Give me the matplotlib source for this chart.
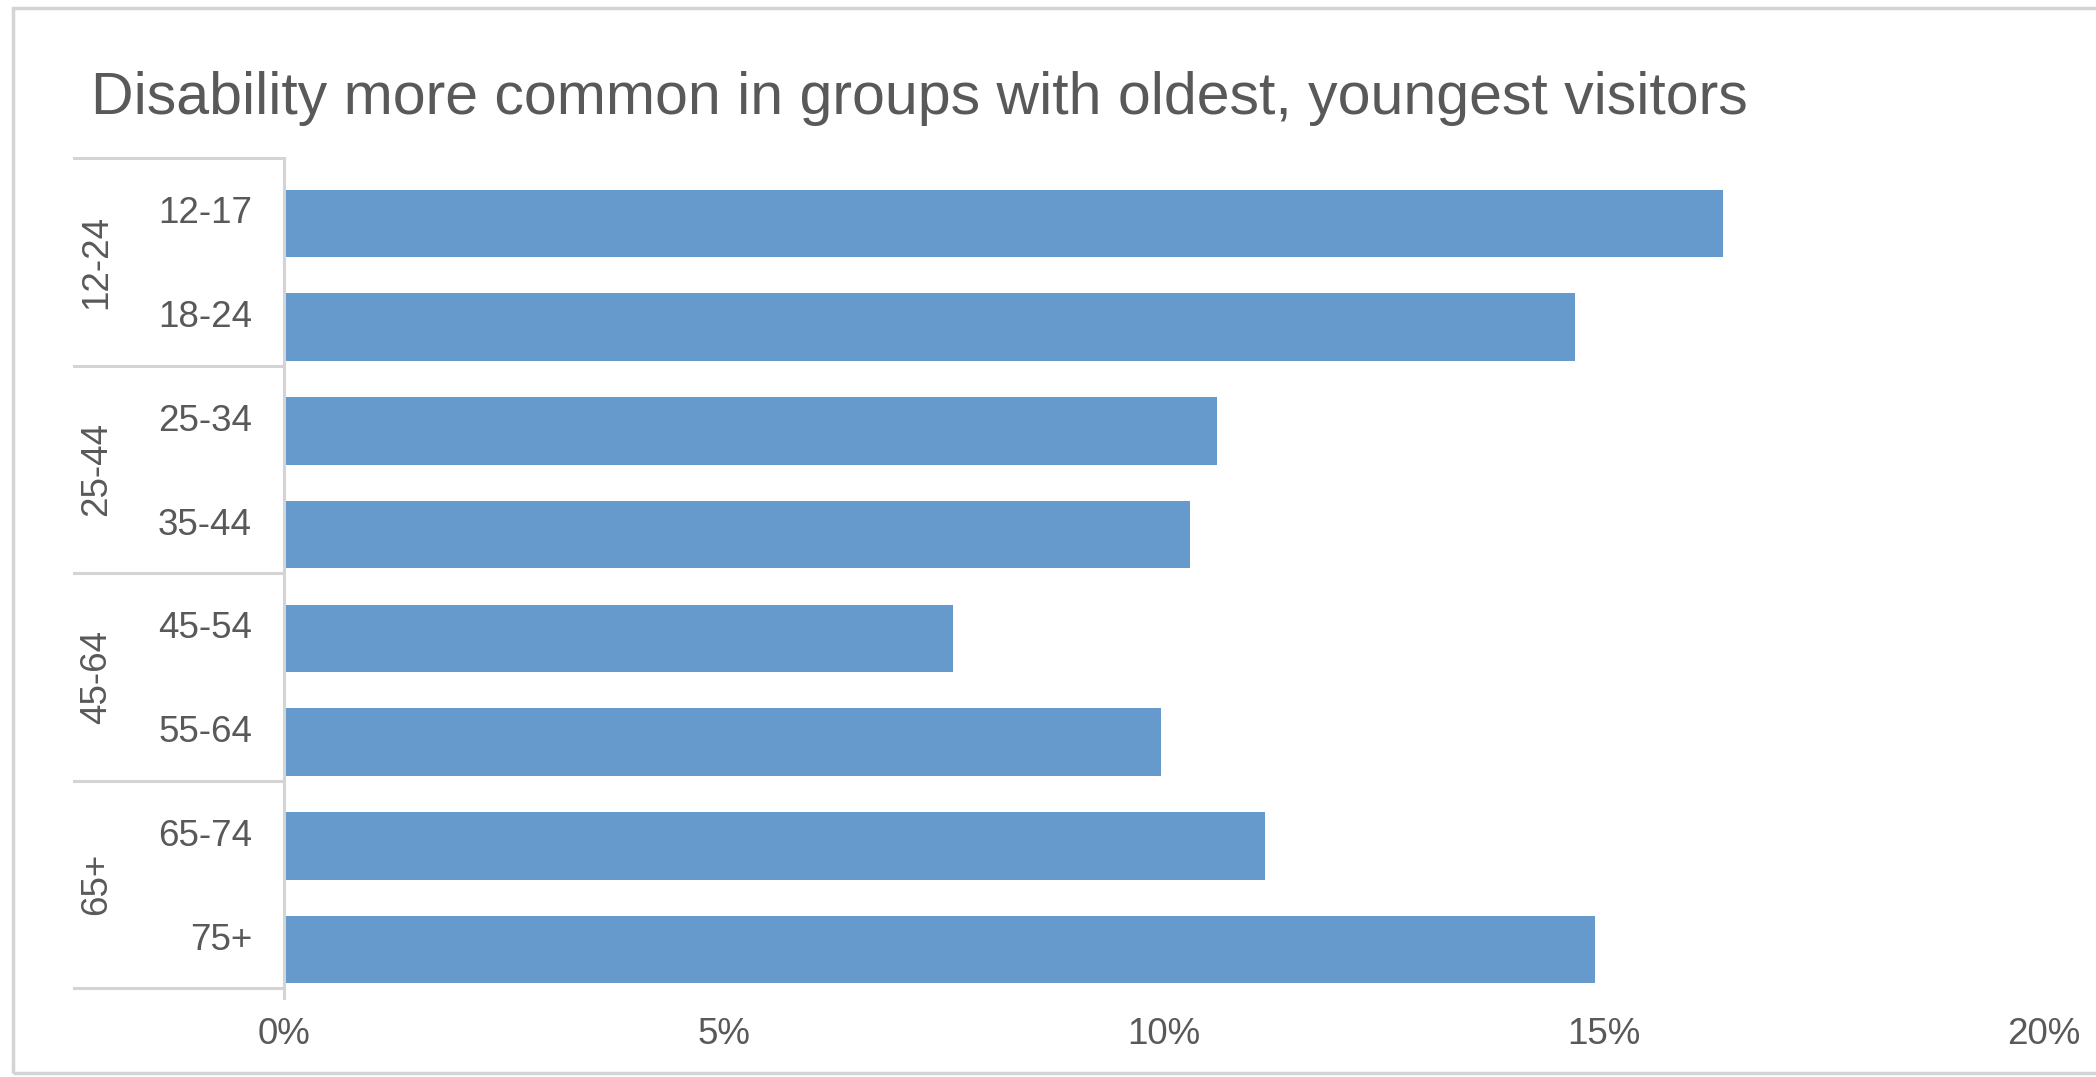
import matplotlib
matplotlib.use("Agg")
import matplotlib.pyplot as plt
from matplotlib.patches import Rectangle
from matplotlib.ticker import FuncFormatter

plt.rcParams['font.family'] = ['Liberation Sans', 'DejaVu Sans']

# Data
age_bands = ["12-17", "18-24", "25-34", "35-44", "45-54", "55-64", "65-74", "75+"]
age_groups = ["12-24", "25-44", "45-64", "65+"]
disability_pct = [16.35, 14.67, 10.6, 10.3, 7.6, 9.97, 11.15, 14.9]
x_ticks = [0, 5, 10, 15, 20]

W, H = 2096, 1077
text_col = '#595959'
line_col = '#d4d4d4'
bar_col = '#6699cc'

fig = plt.figure(figsize=(W / 100, H / 100), dpi=100)
ax = fig.add_axes([284 / W, 1 - 988 / H, (2044 - 284) / W, (988 - 158) / H])

y = list(range(len(age_bands)))
# bars sit a little below the category centre, as in the original
ax.barh([v + 0.13 for v in y], disability_pct, height=0.65, color=bar_col)

ax.set_xlim(0, 20)
ax.set_ylim(len(age_bands) - 0.5, -0.5)
ax.set_xticks(x_ticks)
ax.xaxis.set_major_formatter(FuncFormatter(lambda v, p: f"{v:.0f}%"))
ax.set_yticks(y)
ax.set_yticklabels(age_bands)
ax.tick_params(axis='y', length=0, pad=23, labelsize=26.5, labelcolor=text_col)
ax.tick_params(axis='x', length=0, pad=21, labelsize=26.5, labelcolor=text_col)

for s in ['top', 'right', 'bottom']:
    ax.spines[s].set_visible(False)
ax.spines['left'].set_color(line_col)
ax.spines['left'].set_linewidth(2.2)

# multi-level category axis: separators and group labels
x_left = (74 - 284) / (2044 - 284)
n_per = len(age_bands) // len(age_groups)
for i in range(len(age_groups) + 1):
    yy = i * n_per - 0.5
    ax.plot([x_left, 0], [yy, yy], color=line_col, lw=2.2,
            transform=ax.get_yaxis_transform(), clip_on=False)
ax.plot([0, 0], [len(age_bands) - 0.5, len(age_bands) - 0.4], color=line_col,
        lw=2.2, clip_on=False)
x_grp = (97 - 284) / (2044 - 284)
for i, g in enumerate(age_groups):
    ax.text(x_grp, i * n_per + (n_per - 1) / 2, g, rotation=90,
            ha='center', va='center', fontsize=26.5, color=text_col,
            transform=ax.get_yaxis_transform())

fig.text(91 / W, 1 - 98 / H, "Disability more common in groups with oldest, youngest visitors",
         ha='left', va='center', fontsize=42.5, color=text_col)

# outer chart border
fig.patches.append(Rectangle((13 / W, 4 / H), (W - 10) / W, (H - 12) / H,
                             transform=fig.transFigure, fill=False,
                             edgecolor=line_col, lw=2.5))

fig.savefig("out.png", dpi=100)
